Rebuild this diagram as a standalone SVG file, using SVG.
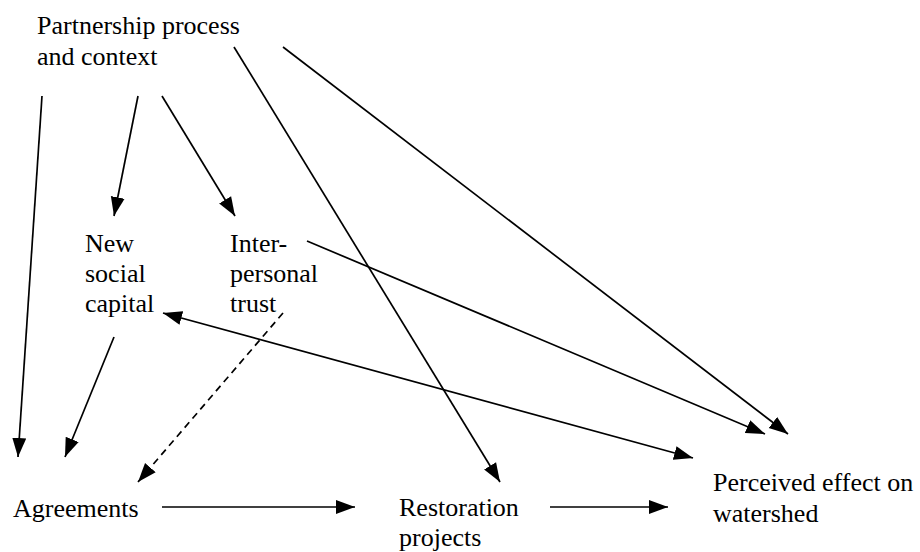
<svg xmlns="http://www.w3.org/2000/svg" width="920" height="552" viewBox="0 0 920 552">
  <style>
    text { font-family: 'Liberation Serif', Tinos, 'Times New Roman', Times, 'DejaVu Serif', serif; font-size: 26px; fill: #000; }
    .edge { stroke: #000; stroke-width: 1.7; fill: none; marker-end: url(#arrow); }
    .dash { stroke-dasharray: 7 5; }
  </style>
  <defs>
    <marker id="arrow" markerUnits="userSpaceOnUse" markerWidth="20" markerHeight="16" viewBox="0 0 20 16" refX="19" refY="8" orient="auto-start-reverse">
      <path d="M0,1 L19,8 L0,15 Z" fill="#000"/>
    </marker>
  </defs>

  <rect width="920" height="552" fill="#fff"/>

  <g id="connectors">
    <line class="edge" x1="42" y1="96" x2="18" y2="457"/>
    <line class="edge" x1="138" y1="96" x2="114" y2="216"/>
    <line class="edge" x1="162" y1="96" x2="235" y2="216"/>
    <line class="edge" x1="234" y1="47" x2="500" y2="482"/>
    <line class="edge" x1="283" y1="47" x2="788" y2="434"/>
    <line class="edge" x1="307" y1="241" x2="765" y2="434"/>
    <line class="edge" x1="163" y1="313" x2="693" y2="458" marker-start="url(#arrow)"/>
    <line class="edge dash" x1="283" y1="313" x2="138" y2="482"/>
    <line class="edge" x1="114" y1="337" x2="65" y2="457"/>
    <line class="edge" x1="162" y1="507" x2="355" y2="507"/>
    <line class="edge" x1="550" y1="507" x2="668" y2="507"/>
  </g>

  <g id="partnership">
    <text x="37" y="34">Partnership process</text>
    <text x="37" y="65">and context</text>
  </g>
  <g id="social-capital">
    <text x="85" y="252">New</text>
    <text x="85" y="282">social</text>
    <text x="85" y="312">capital</text>
  </g>
  <g id="trust">
    <text x="230" y="252">Inter-</text>
    <text x="230" y="282">personal</text>
    <text x="230" y="312">trust</text>
  </g>
  <g id="agreements">
    <text x="13" y="517">Agreements</text>
  </g>
  <g id="restoration">
    <text x="399" y="516">Restoration</text>
    <text x="399" y="546">projects</text>
  </g>
  <g id="perceived-effect">
    <text x="713" y="491">Perceived effect on</text>
    <text x="713" y="522">watershed</text>
  </g>
</svg>
